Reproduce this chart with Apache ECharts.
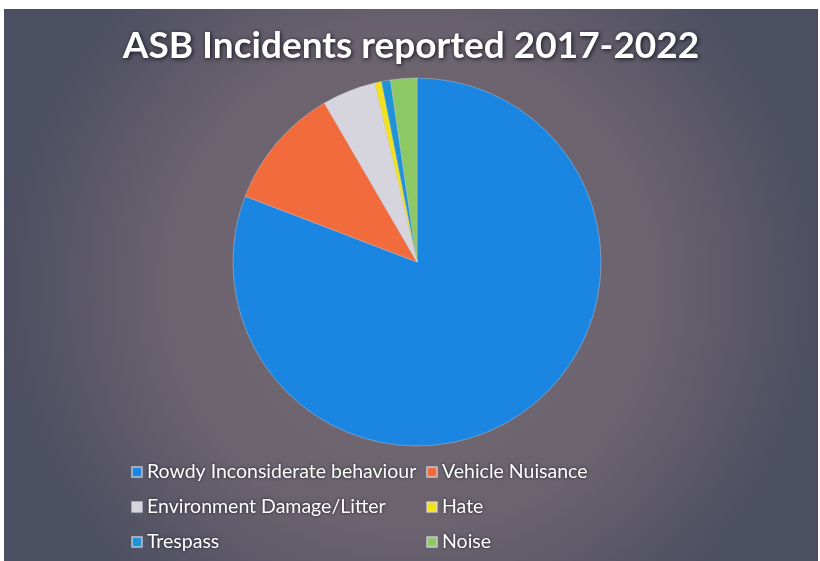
<!DOCTYPE html>
<html><head><meta charset="utf-8">
<script src="https://cdn.jsdelivr.net/npm/echarts@6/dist/echarts.min.js"></script>
<style>
html,body{margin:0;padding:0;background:#ffffff;width:820px;height:561px;overflow:hidden;}
#c{position:absolute;left:4px;top:9px;width:814px;height:552px;}
</style></head>
<body><div id="c"></div>
<script>
const categories = ["Rowdy Inconsiderate behaviour","Vehicle Nuisance","Environment Damage/Litter","Hate","Trespass","Noise"];
const values = [809, 108, 47, 6, 8, 23];
const colors = ["#1a86e2","#f26b3c","#d6d4dc","#f2e21c","#1e93d6","#8cc964"];

const chart = echarts.init(document.getElementById('c'));
const textStyle = {color:'#ffffff', fontSize:19.5, fontFamily:'Lato',
  textShadowColor:'rgba(20,20,30,0.9)', textShadowBlur:3};
chart.setOption({
  backgroundColor: {type:'radial', x:0.5, y:0.5, r:0.75, colorStops:[
    {offset:0,color:'#756b72'},{offset:0.6,color:'#6a626e'},{offset:1,color:'#4c4e61'}]},
  title:{text:'ASB Incidents reported 2017-2022', left:'center', top:14,
    textStyle:{color:'#ffffff', fontSize:37, fontWeight:'bold', fontFamily:'Lato',
      textShadowColor:'rgba(15,15,25,0.95)', textShadowBlur:4, textShadowOffsetX:1, textShadowOffsetY:1}},
  legend:[
    {data:[categories[0],categories[2],categories[4]], orient:'vertical', left:122, top:448,
     itemGap:15, itemWidth:10, itemHeight:10, icon:'rect', textStyle:textStyle},
    {data:[categories[1],categories[3],categories[5]], orient:'vertical', left:417, top:448,
     itemGap:15, itemWidth:10, itemHeight:10, icon:'rect', textStyle:textStyle}
  ],
  series:[{
    type:'pie', center:[413,253], radius:184, startAngle:90, clockwise:true,
    label:{show:false}, labelLine:{show:false},
    itemStyle:{borderColor:'rgba(220,215,225,0.6)', borderWidth:0.6},
    emphasis:{disabled:true},
    data: categories.map((n,i)=>({name:n, value:values[i], itemStyle:{color:colors[i]}}))
  }]
});
</script></body></html>
